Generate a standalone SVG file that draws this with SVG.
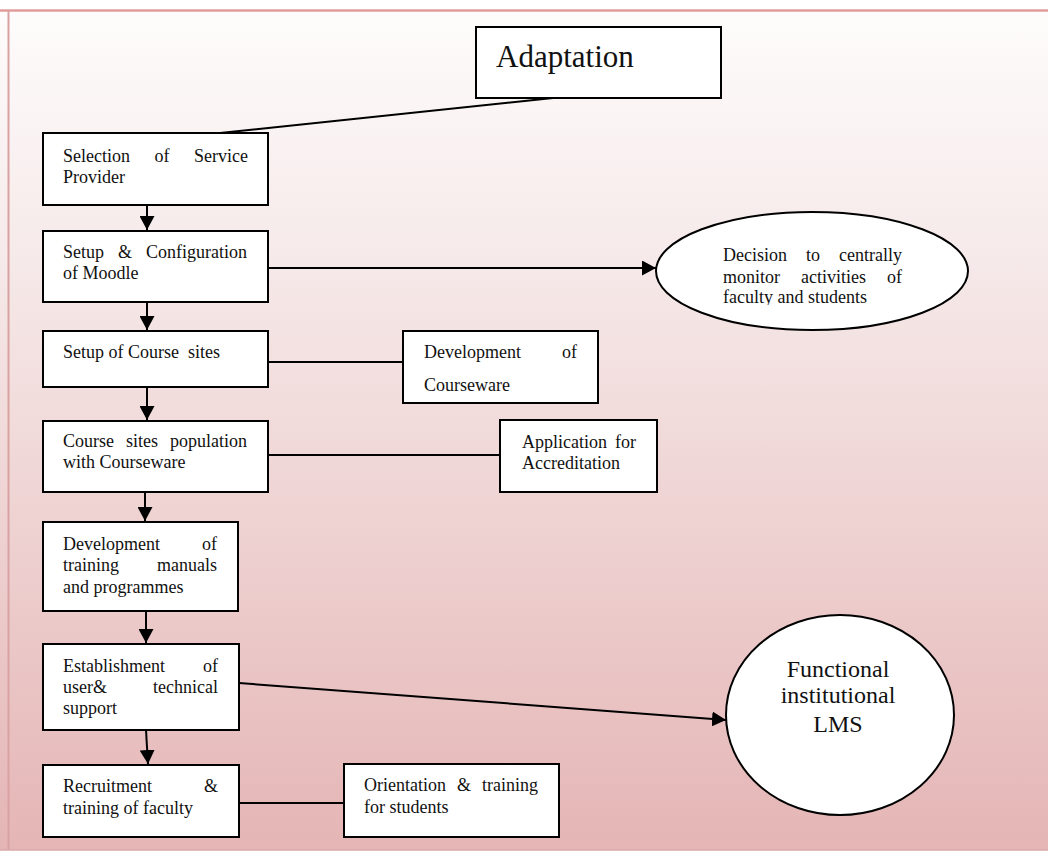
<svg xmlns="http://www.w3.org/2000/svg" width="1048" height="852" viewBox="0 0 1048 852">
<style>
.box{fill:#fff;stroke:#000;stroke-width:2}
.t{font-family:"Liberation Serif","Times New Roman",serif;font-size:18px;fill:#111}
.e{text-anchor:end}
.conn line{stroke:#000;stroke-width:2}
</style>
<defs>
<linearGradient id="bg" x1="0" y1="0" x2="0" y2="1">
<stop offset="0" stop-color="#fefcfc"/>
<stop offset="0.3" stop-color="#f6e9e9"/>
<stop offset="1" stop-color="#e5b5b5"/>
</linearGradient>
<marker id="ah" markerUnits="userSpaceOnUse" markerWidth="15" markerHeight="15" refX="14" refY="7.5" orient="auto">
<path d="M0,0 L14,7.5 L0,15 z" fill="#000"/>
</marker>
<clipPath id="clipE"><rect x="600" y="200" width="400" height="105"/></clipPath>
</defs>
<rect x="0" y="0" width="1048" height="852" fill="#fff"/>
<rect x="0" y="10" width="1048" height="840" fill="url(#bg)"/>
<line x1="0" y1="10.5" x2="1048" y2="10.5" stroke="#e39c9c" stroke-width="2.5"/>
<line x1="8.5" y1="10" x2="8.5" y2="850" stroke="#d9a2a2" stroke-width="2"/>
<line x1="0" y1="850" x2="1048" y2="850" stroke="#d8a8a8" stroke-width="1.5"/>

<g id="connectors" class="conn">
<line x1="553" y1="98" x2="220" y2="133"/>
<line x1="147" y1="205" x2="147" y2="230" marker-end="url(#ah)"/>
<line x1="268" y1="268" x2="656" y2="268" marker-end="url(#ah)"/>
<line x1="147" y1="302" x2="147" y2="330" marker-end="url(#ah)"/>
<line x1="268" y1="362" x2="403" y2="362"/>
<line x1="147" y1="387" x2="147" y2="420" marker-end="url(#ah)"/>
<line x1="268" y1="455" x2="500" y2="455"/>
<line x1="145" y1="492" x2="145" y2="521" marker-end="url(#ah)"/>
<line x1="146" y1="611" x2="146" y2="643" marker-end="url(#ah)"/>
<line x1="239" y1="683" x2="726" y2="720" marker-end="url(#ah)"/>
<line x1="146" y1="730" x2="148" y2="764" marker-end="url(#ah)"/>
<line x1="239" y1="803" x2="344" y2="803"/>
</g>

<g id="adaptation">
<rect class="box" x="476" y="27" width="245" height="71"/>
<text x="496" y="67" font-family="Liberation Serif, Times New Roman, serif" font-size="31" fill="#111">Adaptation</text>
</g>

<g id="selection">
<rect class="box" x="43" y="133" width="225" height="72"/>
<text class="t" y="162"><tspan x="63">Selection</tspan><tspan x="154.5">of</tspan><tspan x="248" class="e">Service</tspan></text>
<text class="t" x="63" y="183">Provider</text>
</g>

<g id="setup-config">
<rect class="box" x="43" y="231" width="225" height="71"/>
<text class="t" y="258"><tspan x="63">Setup</tspan><tspan x="118">&amp;</tspan><tspan x="247" class="e">Configuration</tspan></text>
<text class="t" x="63" y="279">of Moodle</text>
</g>

<g id="decision">
<ellipse cx="812" cy="271" rx="156" ry="59" fill="#fff" stroke="#000" stroke-width="2"/>
<text class="t" y="261"><tspan x="723">Decision</tspan><tspan x="806">to</tspan><tspan x="902" class="e">centrally</tspan></text>
<text class="t" y="283"><tspan x="723">monitor</tspan><tspan x="801">activities</tspan><tspan x="902" class="e">of</tspan></text>
<text class="t" x="723" y="303" clip-path="url(#clipE)">faculty and students</text>
</g>

<g id="course-sites">
<rect class="box" x="43" y="331" width="225" height="56"/>
<text class="t" x="63" y="358" xml:space="preserve" style="white-space:pre">Setup of Course  sites</text>
</g>

<g id="courseware">
<rect class="box" x="403" y="331" width="195" height="72"/>
<text class="t" y="358"><tspan x="424">Development</tspan><tspan x="577" class="e">of</tspan></text>
<text class="t" x="424" y="391">Courseware</text>
</g>

<g id="population">
<rect class="box" x="43" y="421" width="225" height="71"/>
<text class="t" y="447"><tspan x="63">Course</tspan><tspan x="126">sites</tspan><tspan x="247" class="e">population</tspan></text>
<text class="t" x="63" y="468">with Courseware</text>
</g>

<g id="accreditation">
<rect class="box" x="500" y="420" width="157" height="72"/>
<text class="t" y="448"><tspan x="522">Application</tspan><tspan x="636" class="e">for</tspan></text>
<text class="t" x="522" y="469">Accreditation</text>
</g>

<g id="training-manuals">
<rect class="box" x="43" y="522" width="195" height="89"/>
<text class="t" y="550"><tspan x="63">Development</tspan><tspan x="217" class="e">of</tspan></text>
<text class="t" y="571"><tspan x="63">training</tspan><tspan x="217" class="e">manuals</tspan></text>
<text class="t" x="63" y="593">and programmes</text>
</g>

<g id="support">
<rect class="box" x="43" y="644" width="196" height="86"/>
<text class="t" y="672"><tspan x="63">Establishment</tspan><tspan x="218" class="e">of</tspan></text>
<text class="t" y="693"><tspan x="63">user&amp;</tspan><tspan x="218" class="e">technical</tspan></text>
<text class="t" x="63" y="714">support</text>
</g>

<g id="lms">
<ellipse cx="840" cy="715" rx="114" ry="100" fill="#fff" stroke="#000" stroke-width="2"/>
<text x="838" y="677" text-anchor="middle" font-family="Liberation Serif, Times New Roman, serif" font-size="24" fill="#111">Functional</text>
<text x="838" y="703" text-anchor="middle" font-family="Liberation Serif, Times New Roman, serif" font-size="24" fill="#111">institutional</text>
<text x="838" y="732" text-anchor="middle" font-family="Liberation Serif, Times New Roman, serif" font-size="24" fill="#111">LMS</text>
</g>

<g id="recruitment">
<rect class="box" x="43" y="765" width="196" height="72"/>
<text class="t" y="792"><tspan x="63">Recruitment</tspan><tspan x="218" class="e">&amp;</tspan></text>
<text class="t" x="63" y="814">training of faculty</text>
</g>

<g id="orientation">
<rect class="box" x="344" y="764" width="215" height="73"/>
<text class="t" y="791"><tspan x="364">Orientation</tspan><tspan x="457">&amp;</tspan><tspan x="538" class="e">training</tspan></text>
<text class="t" x="364" y="813">for students</text>
</g>
</svg>
